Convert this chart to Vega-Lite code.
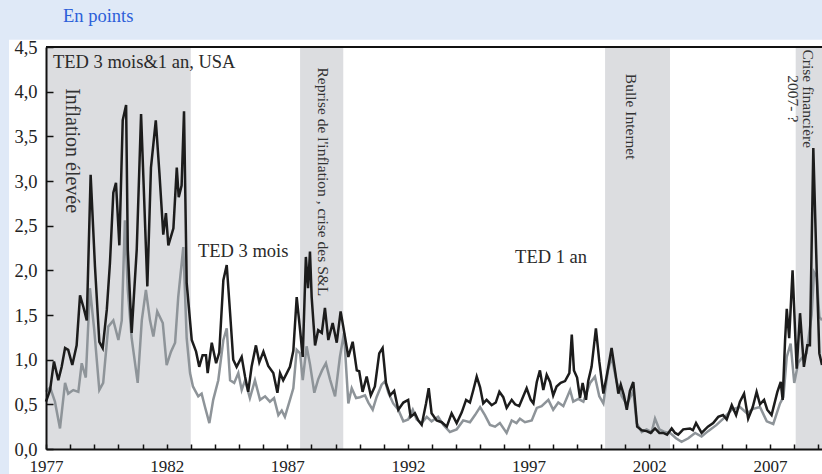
{
  "$schema": "https://vega.github.io/schema/vega-lite/v6.json",
  "width": 776,
  "height": 402,
  "autosize": "none",
  "padding": {"left": 46, "top": 47, "right": 0, "bottom": 25},
  "background": "#dfe9f7",
  "config": {
    "view": {"stroke": null, "fill": "white"},
    "font": "Liberation Serif"
  },
  "title": {
    "text": "En points",
    "anchor": "start",
    "frame": "group",
    "orient": "top",
    "offset": -2,
    "dx": 17,
    "baseline": "alphabetic",
    "font": "Liberation Serif",
    "fontSize": 18.5,
    "fontWeight": "normal",
    "color": "#2b5fd9"
  },
  "datasets": {
    "bands": [
      {"start": 1977.0, "end": 1983.0},
      {"start": 1987.53, "end": 1989.32},
      {"start": 2000.17, "end": 2002.86},
      {"start": 2008.07, "end": 2009.16}
    ],
    "black": [
      {"t":1977.00,"v":0.53},{"t":1977.17,"v":0.66},{"t":1977.33,"v":0.98},{"t":1977.51,"v":0.77},{"t":1977.65,"v":0.92},{"t":1977.79,"v":1.13},{"t":1977.92,"v":1.11},{"t":1978.09,"v":0.94},{"t":1978.27,"v":1.16},{"t":1978.41,"v":1.72},{"t":1978.55,"v":1.59},{"t":1978.69,"v":1.44},{"t":1978.85,"v":3.07},{"t":1979.03,"v":2.04},{"t":1979.21,"v":1.20},{"t":1979.35,"v":1.13},{"t":1979.52,"v":1.56},{"t":1979.65,"v":2.08},{"t":1979.79,"v":2.87},{"t":1979.90,"v":2.98},{"t":1980.04,"v":2.28},{"t":1980.18,"v":3.68},{"t":1980.32,"v":3.85},{"t":1980.39,"v":2.23},{"t":1980.55,"v":1.30},{"t":1980.76,"v":2.23},{"t":1980.94,"v":3.75},{"t":1981.20,"v":1.82},{"t":1981.35,"v":3.15},{"t":1981.55,"v":3.68},{"t":1981.70,"v":3.09},{"t":1981.86,"v":2.40},{"t":1981.97,"v":2.64},{"t":1982.07,"v":2.28},{"t":1982.28,"v":2.47},{"t":1982.42,"v":3.15},{"t":1982.50,"v":2.82},{"t":1982.62,"v":2.95},{"t":1982.72,"v":3.78},{"t":1982.83,"v":1.86},{"t":1983.04,"v":1.22},{"t":1983.22,"v":1.09},{"t":1983.35,"v":0.92},{"t":1983.49,"v":1.05},{"t":1983.63,"v":1.05},{"t":1983.70,"v":0.85},{"t":1983.87,"v":1.19},{"t":1984.05,"v":0.96},{"t":1984.18,"v":1.08},{"t":1984.35,"v":1.89},{"t":1984.49,"v":2.06},{"t":1984.63,"v":1.52},{"t":1984.76,"v":1.00},{"t":1984.90,"v":0.92},{"t":1985.11,"v":1.03},{"t":1985.25,"v":0.81},{"t":1985.38,"v":0.64},{"t":1985.52,"v":0.92},{"t":1985.70,"v":1.16},{"t":1985.84,"v":0.97},{"t":1986.01,"v":1.09},{"t":1986.21,"v":0.93},{"t":1986.42,"v":0.85},{"t":1986.59,"v":0.63},{"t":1986.70,"v":0.85},{"t":1986.83,"v":0.77},{"t":1986.98,"v":0.85},{"t":1987.11,"v":0.92},{"t":1987.25,"v":1.10},{"t":1987.39,"v":1.70},{"t":1987.53,"v":1.33},{"t":1987.64,"v":1.03},{"t":1987.77,"v":2.15},{"t":1987.86,"v":1.80},{"t":1987.94,"v":2.21},{"t":1988.01,"v":1.70},{"t":1988.15,"v":1.16},{"t":1988.28,"v":1.33},{"t":1988.43,"v":1.30},{"t":1988.56,"v":1.58},{"t":1988.70,"v":1.22},{"t":1988.88,"v":1.41},{"t":1989.05,"v":1.19},{"t":1989.21,"v":1.54},{"t":1989.32,"v":1.37},{"t":1989.53,"v":1.03},{"t":1989.71,"v":1.20},{"t":1989.88,"v":0.88},{"t":1989.98,"v":0.87},{"t":1990.12,"v":0.64},{"t":1990.29,"v":0.81},{"t":1990.46,"v":0.60},{"t":1990.63,"v":0.70},{"t":1990.81,"v":1.07},{"t":1990.95,"v":1.13},{"t":1991.09,"v":0.74},{"t":1991.26,"v":0.60},{"t":1991.43,"v":0.65},{"t":1991.60,"v":0.44},{"t":1991.81,"v":0.52},{"t":1992.01,"v":0.55},{"t":1992.11,"v":0.36},{"t":1992.29,"v":0.40},{"t":1992.43,"v":0.32},{"t":1992.57,"v":0.27},{"t":1992.75,"v":0.51},{"t":1992.86,"v":0.68},{"t":1992.98,"v":0.40},{"t":1993.19,"v":0.32},{"t":1993.40,"v":0.30},{"t":1993.61,"v":0.25},{"t":1993.81,"v":0.40},{"t":1994.02,"v":0.29},{"t":1994.23,"v":0.41},{"t":1994.41,"v":0.55},{"t":1994.57,"v":0.52},{"t":1994.71,"v":0.66},{"t":1994.85,"v":0.81},{"t":1994.99,"v":0.69},{"t":1995.12,"v":0.51},{"t":1995.26,"v":0.55},{"t":1995.47,"v":0.49},{"t":1995.64,"v":0.52},{"t":1995.79,"v":0.64},{"t":1995.95,"v":0.58},{"t":1996.09,"v":0.46},{"t":1996.30,"v":0.55},{"t":1996.44,"v":0.50},{"t":1996.61,"v":0.48},{"t":1996.78,"v":0.59},{"t":1996.92,"v":0.68},{"t":1997.09,"v":0.55},{"t":1997.20,"v":0.51},{"t":1997.34,"v":0.75},{"t":1997.47,"v":0.88},{"t":1997.61,"v":0.66},{"t":1997.75,"v":0.83},{"t":1997.89,"v":0.75},{"t":1998.02,"v":0.60},{"t":1998.16,"v":0.70},{"t":1998.33,"v":0.74},{"t":1998.51,"v":0.76},{"t":1998.69,"v":0.85},{"t":1998.79,"v":1.28},{"t":1998.88,"v":0.88},{"t":1999.01,"v":0.80},{"t":1999.13,"v":0.57},{"t":1999.24,"v":0.74},{"t":1999.38,"v":0.55},{"t":1999.47,"v":0.76},{"t":1999.61,"v":0.92},{"t":1999.79,"v":1.35},{"t":1999.93,"v":0.98},{"t":2000.10,"v":0.62},{"t":2000.26,"v":0.85},{"t":2000.44,"v":1.13},{"t":2000.58,"v":0.88},{"t":2000.72,"v":0.62},{"t":2000.82,"v":0.72},{"t":2000.95,"v":0.60},{"t":2001.07,"v":0.44},{"t":2001.20,"v":0.65},{"t":2001.34,"v":0.75},{"t":2001.50,"v":0.25},{"t":2001.69,"v":0.21},{"t":2001.89,"v":0.20},{"t":2002.06,"v":0.18},{"t":2002.24,"v":0.23},{"t":2002.42,"v":0.18},{"t":2002.58,"v":0.18},{"t":2002.74,"v":0.16},{"t":2002.93,"v":0.23},{"t":2003.07,"v":0.18},{"t":2003.20,"v":0.16},{"t":2003.41,"v":0.22},{"t":2003.69,"v":0.23},{"t":2003.81,"v":0.21},{"t":2003.94,"v":0.29},{"t":2004.17,"v":0.18},{"t":2004.43,"v":0.25},{"t":2004.65,"v":0.29},{"t":2004.86,"v":0.36},{"t":2005.06,"v":0.38},{"t":2005.21,"v":0.33},{"t":2005.42,"v":0.49},{"t":2005.60,"v":0.38},{"t":2005.76,"v":0.53},{"t":2005.93,"v":0.62},{"t":2006.10,"v":0.34},{"t":2006.29,"v":0.47},{"t":2006.45,"v":0.64},{"t":2006.59,"v":0.50},{"t":2006.76,"v":0.55},{"t":2006.89,"v":0.44},{"t":2007.07,"v":0.38},{"t":2007.31,"v":0.64},{"t":2007.45,"v":0.75},{"t":2007.53,"v":0.55},{"t":2007.63,"v":1.22},{"t":2007.70,"v":1.57},{"t":2007.80,"v":1.24},{"t":2007.94,"v":2.00},{"t":2008.11,"v":0.90},{"t":2008.25,"v":1.52},{"t":2008.41,"v":0.92},{"t":2008.55,"v":1.16},{"t":2008.66,"v":1.16},{"t":2008.80,"v":3.37},{"t":2008.94,"v":2.00},{"t":2009.05,"v":1.07},{"t":2009.16,"v":0.94}
    ],
    "gray": [
      {"t":1977.00,"v":0.64},{"t":1977.17,"v":0.69},{"t":1977.37,"v":0.53},{"t":1977.58,"v":0.23},{"t":1977.79,"v":0.74},{"t":1977.92,"v":0.62},{"t":1978.13,"v":0.66},{"t":1978.34,"v":0.64},{"t":1978.48,"v":0.96},{"t":1978.65,"v":0.80},{"t":1978.82,"v":1.80},{"t":1979.00,"v":1.33},{"t":1979.21,"v":0.66},{"t":1979.37,"v":0.74},{"t":1979.58,"v":1.37},{"t":1979.79,"v":1.44},{"t":1980.00,"v":1.22},{"t":1980.14,"v":1.44},{"t":1980.27,"v":2.56},{"t":1980.39,"v":1.78},{"t":1980.55,"v":1.24},{"t":1980.80,"v":0.74},{"t":1980.97,"v":1.44},{"t":1981.14,"v":1.78},{"t":1981.31,"v":1.44},{"t":1981.45,"v":1.26},{"t":1981.61,"v":1.54},{"t":1981.84,"v":1.41},{"t":1982.00,"v":0.94},{"t":1982.18,"v":1.09},{"t":1982.35,"v":1.19},{"t":1982.48,"v":1.70},{"t":1982.69,"v":2.26},{"t":1982.83,"v":1.24},{"t":1982.97,"v":0.85},{"t":1983.09,"v":0.70},{"t":1983.17,"v":0.66},{"t":1983.31,"v":0.59},{"t":1983.45,"v":0.62},{"t":1983.59,"v":0.47},{"t":1983.77,"v":0.29},{"t":1983.93,"v":0.55},{"t":1984.14,"v":0.77},{"t":1984.35,"v":1.22},{"t":1984.49,"v":1.35},{"t":1984.63,"v":0.77},{"t":1984.80,"v":0.74},{"t":1984.97,"v":0.85},{"t":1985.11,"v":0.66},{"t":1985.25,"v":0.77},{"t":1985.45,"v":0.57},{"t":1985.66,"v":0.77},{"t":1985.87,"v":0.55},{"t":1986.08,"v":0.59},{"t":1986.28,"v":0.53},{"t":1986.45,"v":0.57},{"t":1986.63,"v":0.38},{"t":1986.77,"v":0.43},{"t":1986.90,"v":0.36},{"t":1987.11,"v":0.55},{"t":1987.25,"v":0.68},{"t":1987.39,"v":1.11},{"t":1987.53,"v":1.07},{"t":1987.64,"v":0.77},{"t":1987.80,"v":1.15},{"t":1987.94,"v":0.95},{"t":1988.12,"v":0.63},{"t":1988.28,"v":0.78},{"t":1988.44,"v":0.88},{"t":1988.60,"v":0.96},{"t":1988.77,"v":0.78},{"t":1988.98,"v":0.59},{"t":1989.18,"v":1.03},{"t":1989.35,"v":1.30},{"t":1989.53,"v":0.51},{"t":1989.67,"v":0.68},{"t":1989.85,"v":0.57},{"t":1990.01,"v":0.58},{"t":1990.22,"v":0.60},{"t":1990.36,"v":0.52},{"t":1990.54,"v":0.44},{"t":1990.70,"v":0.58},{"t":1990.91,"v":0.72},{"t":1991.05,"v":0.76},{"t":1991.19,"v":0.63},{"t":1991.39,"v":0.51},{"t":1991.60,"v":0.44},{"t":1991.81,"v":0.31},{"t":1992.01,"v":0.33},{"t":1992.20,"v":0.44},{"t":1992.36,"v":0.33},{"t":1992.57,"v":0.29},{"t":1992.78,"v":0.36},{"t":1992.98,"v":0.31},{"t":1993.25,"v":0.36},{"t":1993.47,"v":0.27},{"t":1993.74,"v":0.19},{"t":1994.02,"v":0.22},{"t":1994.29,"v":0.32},{"t":1994.57,"v":0.30},{"t":1994.78,"v":0.38},{"t":1994.99,"v":0.47},{"t":1995.19,"v":0.38},{"t":1995.40,"v":0.27},{"t":1995.61,"v":0.25},{"t":1995.81,"v":0.29},{"t":1996.09,"v":0.18},{"t":1996.30,"v":0.32},{"t":1996.50,"v":0.29},{"t":1996.64,"v":0.34},{"t":1996.85,"v":0.30},{"t":1997.13,"v":0.32},{"t":1997.34,"v":0.46},{"t":1997.54,"v":0.48},{"t":1997.82,"v":0.55},{"t":1998.02,"v":0.44},{"t":1998.23,"v":0.52},{"t":1998.44,"v":0.48},{"t":1998.72,"v":0.66},{"t":1998.85,"v":0.53},{"t":1999.06,"v":0.56},{"t":1999.27,"v":0.53},{"t":1999.55,"v":0.74},{"t":1999.75,"v":0.81},{"t":1999.93,"v":0.59},{"t":2000.10,"v":0.51},{"t":2000.29,"v":0.88},{"t":2000.44,"v":1.03},{"t":2000.65,"v":0.75},{"t":2000.86,"v":0.59},{"t":2001.07,"v":0.50},{"t":2001.34,"v":0.65},{"t":2001.48,"v":0.29},{"t":2001.69,"v":0.19},{"t":2001.89,"v":0.22},{"t":2002.10,"v":0.19},{"t":2002.24,"v":0.34},{"t":2002.42,"v":0.22},{"t":2002.65,"v":0.19},{"t":2002.86,"v":0.18},{"t":2003.11,"v":0.12},{"t":2003.34,"v":0.08},{"t":2003.62,"v":0.12},{"t":2003.90,"v":0.18},{"t":2004.17,"v":0.14},{"t":2004.44,"v":0.20},{"t":2004.79,"v":0.27},{"t":2005.07,"v":0.34},{"t":2005.42,"v":0.44},{"t":2005.76,"v":0.47},{"t":2006.04,"v":0.40},{"t":2006.31,"v":0.45},{"t":2006.59,"v":0.47},{"t":2006.87,"v":0.31},{"t":2007.14,"v":0.28},{"t":2007.42,"v":0.51},{"t":2007.56,"v":0.58},{"t":2007.70,"v":1.03},{"t":2007.86,"v":1.18},{"t":2008.01,"v":0.74},{"t":2008.18,"v":0.97},{"t":2008.33,"v":1.02},{"t":2008.52,"v":1.07},{"t":2008.73,"v":1.50},{"t":2008.83,"v":1.98},{"t":2008.94,"v":1.93},{"t":2009.05,"v":1.48},{"t":2009.16,"v":1.44}
    ],
    "hlabels": [
      {"label": "TED 3 mois&1 an, USA", "t": 1977.29, "v": 4.26},
      {"label": "TED 3 mois", "t": 1983.30, "v": 2.15},
      {"label": "TED 1 an", "t": 1996.44, "v": 2.085}
    ],
    "biglabels": [
      {"label": "Inflation élevée", "t": 1978.06, "v": 3.34}
    ],
    "vlabels": [
      {"label": "Reprise de l'inflation , crise des S&L", "t": 1988.49, "v": 2.99},
      {"label": "Bulle Internet", "t": 2001.23, "v": 3.72},
      {"label": "Crise financière\n2007- ?", "t": 2008.56, "v": 3.92}
    ]
  },
  "encoding": {
    "x": {
      "type": "quantitative",
      "scale": {"domain": [1977, 2009.16], "nice": false, "zero": false},
      "axis": {
        "title": null,
        "zindex": 2,
        "values": [1977,1978,1979,1980,1981,1982,1983,1984,1985,1986,1987,1988,1989,1990,1991,1992,1993,1994,1995,1996,1997,1998,1999,2000,2001,2002,2003,2004,2005,2006,2007,2008,2009],
        "labelExpr": "(datum.value - 1977) % 5 == 0 ? format(datum.value, 'd') : ''",
        "labelOverlap": false,
        "labelFlush": false,
        "labelFont": "Liberation Serif",
        "labelFontSize": 17,
        "labelColor": "#222222",
        "labelPadding": 14,
        "tickSize": -5,
        "tickColor": "#111111",
        "tickWidth": 1.5,
        "domainColor": "#111111",
        "domainWidth": 2,
        "grid": false
      }
    },
    "y": {
      "type": "quantitative",
      "scale": {"domain": [0, 4.5], "nice": false, "zero": true},
      "axis": {
        "title": null,
        "zindex": 2,
        "values": [0, 0.5, 1, 1.5, 2, 2.5, 3, 3.5, 4, 4.5],
        "labelExpr": "replace(format(datum.value, '.1f'), '.', ',')",
        "labelFlush": false,
        "labelFont": "Liberation Serif",
        "labelFontSize": 18.5,
        "labelColor": "#222222",
        "labelPadding": 16,
        "tickSize": -7,
        "tickColor": "#111111",
        "tickWidth": 1.5,
        "domainColor": "#111111",
        "domainWidth": 2,
        "grid": false
      }
    }
  },
  "layer": [
    {
      "data": {"values": [{}]},
      "mark": {"type": "rect", "fill": "white", "clip": false},
      "encoding": {
        "x": {"datum": 1975.47},
        "x2": {"datum": 2010.5},
        "y": {"datum": -0.4},
        "y2": {"datum": 4.58}
      }
    },
    {
      "data": {"name": "bands"},
      "mark": {"type": "rect", "fill": "#dcdde0"},
      "encoding": {
        "x": {"field": "start"},
        "x2": {"field": "end"},
        "y": {"datum": 0},
        "y2": {"datum": 4.5}
      }
    },
    {
      "data": {"name": "gray"},
      "mark": {"type": "line", "stroke": "#8e9499", "strokeWidth": 2.5, "strokeJoin": "miter"},
      "encoding": {"x": {"field": "t"}, "y": {"field": "v"}}
    },
    {
      "data": {"name": "black"},
      "mark": {"type": "line", "stroke": "#1c1c1c", "strokeWidth": 2.5, "strokeJoin": "miter"},
      "encoding": {"x": {"field": "t"}, "y": {"field": "v"}}
    },
    {
      "data": {"values": [{}]},
      "mark": {"type": "rule", "stroke": "#111111", "strokeWidth": 2},
      "encoding": {"y": {"datum": 4.5}}
    },
    {
      "data": {"name": "hlabels"},
      "mark": {"type": "text", "align": "left", "baseline": "alphabetic", "font": "Liberation Serif", "fontSize": 18.5, "color": "#2a2a2a"},
      "encoding": {"x": {"field": "t"}, "y": {"field": "v"}, "text": {"field": "label"}}
    },
    {
      "data": {"name": "biglabels"},
      "mark": {"type": "text", "align": "center", "baseline": "middle", "angle": 90, "font": "Liberation Serif", "fontSize": 20, "color": "#333333"},
      "encoding": {"x": {"field": "t"}, "y": {"field": "v"}, "text": {"field": "label"}}
    },
    {
      "data": {"name": "vlabels"},
      "mark": {"type": "text", "align": "center", "baseline": "middle", "angle": 90, "lineBreak": "\n", "lineHeight": 15, "font": "Liberation Serif", "fontSize": 15.5, "color": "#333333"},
      "encoding": {"x": {"field": "t"}, "y": {"field": "v"}, "text": {"field": "label"}}
    }
  ]
}
